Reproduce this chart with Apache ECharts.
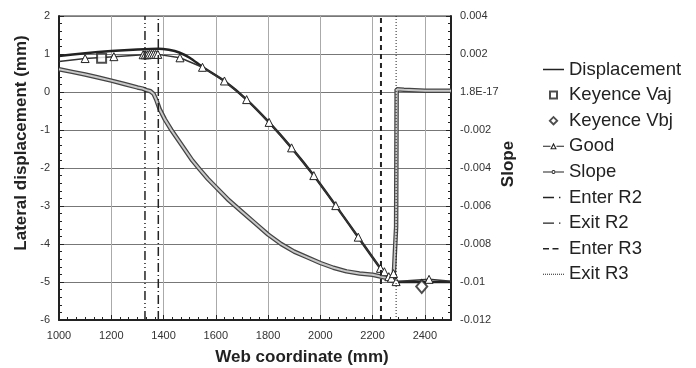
<!DOCTYPE html>
<html>
<head>
<meta charset="utf-8">
<script src="https://cdn.jsdelivr.net/npm/echarts@6/dist/echarts.min.js"></script>
<style>
  html, body { margin: 0; padding: 0; background: #fff; }
  #main { width: 696px; height: 368px; }
</style>
</head>
<body>
<div id="main"></div>
<script>
'use strict';

// displacement (mm) along web coordinate
var dispX = [1000, 1100, 1200, 1300, 1380, 1420, 1460, 1500, 1549, 1633, 1718, 1804, 1890, 1975, 2059, 2145, 2230, 2265, 2285, 2300, 2500];
var dispY = [0.95, 1.02, 1.08, 1.12, 1.14, 1.11, 1.04, 0.90, 0.66, 0.29, -0.20, -0.80, -1.47, -2.20, -2.99, -3.82, -4.64, -4.90, -5.00, -5.00, -5.00];

// "Good" points (triangles)
var goodX = [1000, 1100, 1210, 1322, 1330, 1338, 1346, 1354, 1362, 1370, 1378, 1463, 1549, 1633, 1718, 1804, 1890, 1975, 2059, 2145, 2230, 2245, 2262, 2272, 2280, 2290, 2416, 2500];
var goodY = [0.80, 0.88, 0.93, 0.98, 0.98, 0.98, 0.99, 0.99, 0.99, 0.99, 0.99, 0.90, 0.65, 0.29, -0.20, -0.80, -1.47, -2.20, -2.99, -3.82, -4.64, -4.73, -4.86, -4.90, -4.78, -4.99, -4.93, -4.98];

// slope (right axis)
var slopeX = [1000, 1050, 1100, 1150, 1200, 1250, 1300, 1320, 1335, 1350, 1362, 1372, 1385, 1405, 1430, 1455, 1480, 1510, 1540, 1570, 1600, 1650, 1700, 1750, 1800, 1850, 1900, 1950, 2000, 2050, 2100, 2150, 2200, 2260, 2280, 2287, 2290, 2292, 2320, 2400, 2500];
var slopeY = [0.0012, 0.00106, 0.00092, 0.00076, 0.0006, 0.00042, 0.00024, 0.00018, 0.0001, 0.00004, -0.0001, -0.0004, -0.0009, -0.00144, -0.002, -0.0025, -0.003, -0.0036, -0.0041, -0.00458, -0.005, -0.0057, -0.0063, -0.0069, -0.0075, -0.008, -0.0084, -0.0087, -0.009, -0.00925, -0.00944, -0.00955, -0.00962, -0.0098, -0.00998, -0.01006, -0.0071, 0.00014, 0.00012, 0.00007, 0.00006];

var vajPoint = [1163, 0.89];
var vbjPoint = [2388, -5.12];

var regionNames = ['Enter R2', 'Exit R2', 'Enter R3', 'Exit R3'];
var regionX = [1329, 1380, 2232, 2290];

var slopeLabels = ['-0.012', '-0.01', '-0.008', '-0.006', '-0.004', '-0.002', '1.8E-17', '0.002', '0.004'];

var font = 'Liberation Sans, Arial, sans-serif';
var regionStyles = [
    {type: [9, 3, 1, 3, 1, 3], width: 1.5},
    {type: [9, 3, 1, 3], width: 1.5},
    {type: [5, 4], width: 2},
    {type: [1, 2], width: 1}
];

// legend icons drawn in a 21x10 box (corner specks keep the box size)
var box = 'M0,0h0.01v0.01h-0.01z M20.99,9.99h0.01v0.01h-0.01z ';
var dots = '';
for (var d = 0; d < 21; d += 2) { dots += 'M' + d + ',4.5h1v1h-1z '; }
var legendIcons = {
    'Displacement': box + 'M0,4.2h21v1.6h-21z',
    'Keyence Vaj': box + 'M6,0.5h9v9h-9z M8,2.5v5h5v-5z',
    'Keyence Vbj': box + 'M10.5,0L15.5,5L10.5,10L5.5,5z M10.5,2.6L8.1,5L10.5,7.4L12.9,5z',
    'Good': box + 'M0,4.5h7.5v1h-7.5z M13.5,4.5h7.5v1h-7.5z M10.5,1.5L13.8,8L7.2,8z M10.5,4L8.9,7L12.1,7z',
    'Slope': box + 'M0,4.5h8.5v1h-8.5z M12.5,4.5h8.5v1h-8.5z M8.5,5a2,2 0 1,0 4,0a2,2 0 1,0 -4,0z M9.5,5a1,1 0 1,1 2,0a1,1 0 1,1 -2,0z',
    'Enter R2': box + 'M0,4.3h11v1.4h-11z M16,4.3h1.4v1.4h-1.4z',
    'Exit R2': box + 'M0,4.3h11v1.4h-11z M16,4.3h1.4v1.4h-1.4z',
    'Enter R3': box + 'M0,4.3h6v1.4h-6z M9.5,4.3h6v1.4h-6z',
    'Exit R3': box + dots
};
var legendNames = ['Displacement', 'Keyence Vaj', 'Keyence Vbj', 'Good', 'Slope'].concat(regionNames);

function pairs(xs, ys) {
    return xs.map(function (x, i) { return [x, ys[i]]; });
}

var chart = echarts.init(document.getElementById('main'));

var series = [
    {
        name: 'Slope', type: 'line', yAxisIndex: 1,
        data: pairs(slopeX, slopeY),
        symbol: 'none',
        lineStyle: {color: '#444', width: 4.5},
        itemStyle: {color: '#444'},
        z: 2
    },
    {
        // lighter core of the slope band
        type: 'line', yAxisIndex: 1,
        data: pairs(slopeX, slopeY),
        symbol: 'none',
        lineStyle: {color: '#c8c8c8', width: 2},
        z: 3, silent: true
    },
    {
        name: 'Good', type: 'line',
        data: goodX.map(function (x, i) {
            var edge = (i === 0 || i === goodX.length - 1);
            return {value: [x, goodY[i]], symbol: edge ? 'none' : 'triangle'};
        }),
        symbol: 'triangle', symbolSize: 8,
        lineStyle: {color: '#333', width: 1.5},
        itemStyle: {color: '#fff', borderColor: '#222', borderWidth: 1},
        z: 5
    },
    {
        name: 'Displacement', type: 'line',
        data: pairs(dispX, dispY),
        symbol: 'none', smooth: 0.2,
        lineStyle: {color: '#222', width: 2.5},
        itemStyle: {color: '#222'},
        z: 4
    },
    {
        name: 'Keyence Vaj', type: 'scatter',
        data: [vajPoint],
        symbol: 'rect', symbolSize: 9,
        itemStyle: {color: '#fff', borderColor: '#222', borderWidth: 2},
        z: 6
    },
    {
        name: 'Keyence Vbj', type: 'scatter',
        data: [vbjPoint],
        symbol: 'diamond', symbolSize: [11, 13],
        itemStyle: {color: '#fff', borderColor: '#222', borderWidth: 2},
        z: 6
    }
];

regionNames.forEach(function (name, i) {
    series.push({
        name: name, type: 'line',
        data: [[regionX[i], -6], [regionX[i], 2]],
        symbol: 'none',
        lineStyle: {color: '#222', width: regionStyles[i].width, type: regionStyles[i].type},
        itemStyle: {color: '#222'},
        z: 7
    });
});

var option = {
    backgroundColor: '#fff',
    animation: false,
    textStyle: {fontFamily: font},
    grid: {left: 59, right: 245, top: 16, bottom: 48, show: true, borderColor: '#333', borderWidth: 1},
    legend: {
        orient: 'vertical',
        left: 543, top: 60, padding: 0,
        itemWidth: 21, itemHeight: 10, itemGap: 6.6,
        symbolKeepAspect: true,
        textStyle: {fontSize: 18.5, color: '#222', fontFamily: font},
        data: legendNames.map(function (n) {
            return {
                name: n,
                icon: 'path://' + legendIcons[n],
                itemStyle: {color: '#222', borderWidth: 0}
            };
        })
    },
    xAxis: {
        type: 'value', min: 1000, max: 2500, interval: 200,
        axisLine: {onZero: false, lineStyle: {color: '#222', width: 2}},
        axisTick: {inside: true, length: 5, lineStyle: {color: '#222'}},
        minorTick: {show: true, splitNumber: 6, length: 3, lineStyle: {color: '#222'}},
        axisLabel: {
            color: '#333', fontSize: 11, margin: 10,
            formatter: function (v) { return v === 2500 ? '' : String(v); }
        },
        splitLine: {show: true, lineStyle: {color: '#aaa', width: 1}}
    },
    yAxis: [
        {
            type: 'value', min: -6, max: 2, interval: 1, position: 'left',
            axisLine: {show: true, onZero: false, lineStyle: {color: '#222', width: 2}},
            axisTick: {show: true, inside: true, length: 5, lineStyle: {color: '#222'}},
            minorTick: {show: true, splitNumber: 5, length: 3, lineStyle: {color: '#222'}},
            axisLabel: {color: '#333', fontSize: 11, margin: 9},
            splitLine: {show: true, lineStyle: {color: '#777', width: 1}}
        },
        {
            type: 'value', min: -0.012, max: 0.004, interval: 0.002, position: 'right',
            axisLine: {show: true, onZero: false, lineStyle: {color: '#222', width: 2}},
            axisTick: {show: true, inside: true, length: 5, lineStyle: {color: '#222'}},
            minorTick: {show: true, splitNumber: 5, length: 3, lineStyle: {color: '#222'}},
            axisLabel: {
                color: '#333', fontSize: 11, margin: 9,
                formatter: function (v) { return slopeLabels[Math.round((v + 0.012) / 0.002)]; }
            },
            splitLine: {show: false}
        }
    ],
    graphic: [
        {
            type: 'text', x: 21, y: 143, rotation: Math.PI / 2,
            style: {text: 'Lateral displacement (mm)', font: 'bold 17px ' + font, fill: '#222', align: 'center', verticalAlign: 'middle'}
        },
        {
            type: 'text', x: 508, y: 164, rotation: Math.PI / 2,
            style: {text: 'Slope', font: 'bold 17px ' + font, fill: '#222', align: 'center', verticalAlign: 'middle'}
        },
        {
            type: 'text', x: 302, y: 357,
            style: {text: 'Web coordinate (mm)', font: 'bold 17px ' + font, fill: '#222', align: 'center', verticalAlign: 'middle'}
        }
    ],
    series: series
};

chart.setOption(option);
</script>
</body>
</html>
